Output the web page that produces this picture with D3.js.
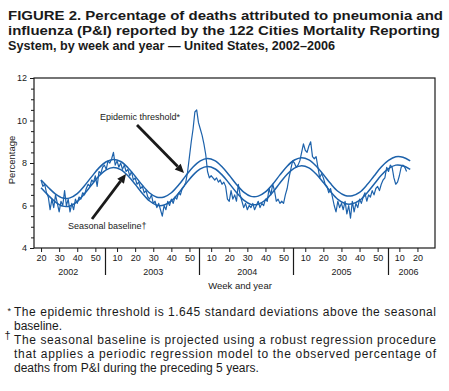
<!DOCTYPE html>
<html><head><meta charset="utf-8">
<script src="https://cdn.jsdelivr.net/npm/d3@7"></script>
<style>
body{margin:0;background:#fff;}
svg{display:block;font-family:"Liberation Sans",Arial,Helvetica,sans-serif;}
</style></head>
<body><svg id="chart" width="449" height="391"></svg>
<script>
// ---------------- data ----------------
const titleLines = [
  "FIGURE 2. Percentage of deaths attributed to pneumonia and",
  "influenza (P&I) reported by the 122 Cities Mortality Reporting",
  "System, by week and year \u2014 United States, 2002\u20132006"
];
const years = [2002, 2003, 2004, 2005, 2006];
const weekTicks = [[20,30,40,50],[10,20,30,40,50],[10,20,30,40,50],[10,20,30,40,50],[10,20]];
const yTicks = [4, 6, 8, 10, 12];
const yMinorTicks = [4.5,5,5.5,6.5,7,7.5,8.5,9,9.5,10.5,11,11.5];
const yLabel = "Percentage";
const xLabel = "Week and year";

// observed weekly % of deaths from P&I, starting 2002 week 20
const observedStart = {year: 2002, week: 20};
const observed = [
  // 2002
  7.2,6.9,7.0,6.6,6.4,5.8,6.3,5.9,6.5,6.1,5.7,6.2,6.0,6.7,6.0,6.3,5.7,6.1,5.8,6.3,
  6.1,6.4,6.3,6.6,6.5,6.8,7.0,6.9,7.2,7.1,7.4,6.9,7.6,7.5,7.8,
  // 2003
  7.9,7.7,8.1,8.0,8.2,8.5,7.9,8.1,7.8,8.0,7.7,7.9,7.6,7.7,7.4,7.6,7.2,7.3,7.0,7.1,
  6.8,6.9,6.6,6.7,6.4,6.3,6.5,6.1,6.2,5.9,6.1,5.8,5.5,6.0,5.8,6.2,6.0,6.3,6.1,6.4,
  6.3,6.6,6.5,6.8,6.9,7.1,7.6,8.3,9.0,9.6,10.4,10.5,
  // 2004
  9.9,9.6,9.3,8.9,8.4,7.6,7.3,7.4,7.3,7.2,7.3,7.1,7.2,7.0,7.1,6.9,6.3,6.2,6.7,6.3,
  6.5,6.2,7.0,6.5,6.2,5.9,6.1,5.8,6.0,5.9,6.1,5.8,6.0,6.2,5.9,6.1,6.0,6.3,6.2,6.8,
  6.5,7.0,6.7,6.2,6.3,6.1,6.2,6.1,6.5,6.8,7.3,7.7,
  // 2005
  8.1,8.0,7.8,7.9,8.1,8.5,8.9,8.6,8.5,8.8,9.0,8.3,8.2,8.3,7.8,7.3,7.5,7.3,7.0,6.9,
  6.6,6.8,6.4,6.0,5.7,6.2,5.9,6.1,5.8,6.2,5.6,6.0,5.4,6.2,5.7,6.1,5.9,6.3,6.1,6.4,
  6.6,6.2,6.5,6.4,6.7,6.5,6.8,6.9,6.7,7.0,7.2,7.3,
  // 2006
  7.8,7.6,7.9,7.8,7.3,7.0,7.1,7.4,7.8,7.9,7.8,7.6
];

// seasonal baseline and epidemic threshold, read every 4 weeks from 2002 week 20
const curveStart = {year: 2002, week: 20};
const curveStep = 4;
const baseline = [
  6.84,6.48,6.16,5.97,5.98,6.18,6.55,6.98,7.39,7.68,7.79,7.69,7.40,
  7.00,6.57,6.21,6.01,6.02,6.22,6.58,7.02,7.43,7.72,7.83,7.73,7.44,
  7.04,6.61,6.25,6.05,6.06,6.26,6.62,7.06,7.47,7.76,7.87,7.77,7.48,
  7.08,6.65,6.29,6.09,6.08,6.24,6.58,7.00,7.42,7.73,7.90,7.87,7.70
];
const threshold = [
  7.20,6.85,6.54,6.35,6.36,6.56,6.93,7.36,7.77,8.06,8.17,8.07,7.78,
  7.38,6.95,6.59,6.39,6.40,6.60,6.96,7.40,7.81,8.10,8.21,8.11,7.82,
  7.42,6.99,6.63,6.43,6.44,6.64,7.00,7.44,7.85,8.14,8.25,8.15,7.86,
  7.46,7.03,6.67,6.47,6.46,6.62,6.96,7.39,7.81,8.12,8.29,8.27,8.10
];

const footnotes = [
  "The epidemic threshold is 1.645 standard deviations above the seasonal",
  "baseline.",
  "The seasonal baseline is projected using a robust regression procedure",
  "that applies a periodic regression model to the observed percentage of",
  "deaths from P&I during the preceding 5 years."
];

// ---------------- drawing ----------------
const svg = d3.select("#chart");
const lineColor = "#1d62ab";
const ink = "#1a1a1a";
const plot = {left: 34, right: 435, top: 78, bottom: 248};
const weekIndex = (yr, wk) => (yr - years[0]) * 52 + wk;

const x = d3.scaleLinear().domain([16.1, 237.7]).range([plot.left, plot.right]);
const y = d3.scaleLinear().domain([4, 12]).range([plot.bottom, plot.top]);

svg.append("rect").attr("width", 449).attr("height", 391).attr("fill", "#fff");

// title
const title = svg.append("g").attr("font-weight", "bold").attr("fill", ink);
const titleTargets = [435, 432, 327];
const titleBase = [20, 35, 50];
titleLines.forEach((t, i) => {
  title.append("text").attr("x", 8).attr("y", titleBase[i]).attr("font-size", 13)
    .attr("textLength", titleTargets[i]).attr("lengthAdjust", "spacingAndGlyphs").text(t);
});

// lines
const obsData = observed.map((v, i) => ({t: weekIndex(observedStart.year, observedStart.week) + i, v}));
const baseData = baseline.map((v, i) => ({t: weekIndex(curveStart.year, curveStart.week) + i * curveStep, v}));
const thrData = threshold.map((v, i) => ({t: weekIndex(curveStart.year, curveStart.week) + i * curveStep, v}));

const g = svg.append("g");
const smooth = d3.line().x(d => x(d.t)).y(d => y(d.v)).curve(d3.curveCatmullRom.alpha(0.5));
const jag = d3.line().x(d => x(d.t)).y(d => y(d.v));

g.append("path").datum(obsData).attr("d", jag).attr("fill", "none")
  .attr("stroke", lineColor).attr("stroke-width", 1.2).attr("stroke-linejoin", "round");
g.append("path").datum(baseData).attr("d", smooth).attr("fill", "none")
  .attr("stroke", lineColor).attr("stroke-width", 1.5);
g.append("path").datum(thrData).attr("d", smooth).attr("fill", "none")
  .attr("stroke", lineColor).attr("stroke-width", 1.5);

// frame
svg.append("rect").attr("x", plot.left).attr("y", plot.top)
  .attr("width", plot.right - plot.left).attr("height", plot.bottom - plot.top)
  .attr("fill", "none").attr("stroke", ink).attr("stroke-width", 1.2);

// y axis
const yAxis = svg.append("g").attr("transform", `translate(${plot.left},0)`)
  .call(d3.axisLeft(y).tickValues(yTicks).tickSize(4).tickPadding(3));
const yMinor = svg.append("g").attr("transform", `translate(${plot.left},0)`)
  .call(d3.axisLeft(y).tickValues(yMinorTicks).tickSize(3).tickFormat(""));
[yAxis, yMinor].forEach(a => {
  a.select(".domain").remove();
  a.selectAll("line").attr("stroke", ink);
});
yAxis.selectAll("text").attr("font-size", 9).attr("fill", ink)
  .attr("font-family", "'Liberation Sans',Arial,sans-serif");

svg.append("text").attr("transform", `translate(15,160) rotate(-90)`)
  .attr("text-anchor", "middle").attr("font-size", 9.5).attr("fill", ink).text(yLabel);

// x axis
const tickData = [];
years.forEach((yr, i) => weekTicks[i].forEach(w => tickData.push({t: weekIndex(yr, w), w})));
const xAxis = svg.append("g").attr("transform", `translate(0,${plot.bottom})`)
  .call(d3.axisBottom(x).tickValues(tickData.map(d => d.t)).tickSize(4).tickPadding(3)
    .tickFormat((t, i) => tickData[i].w));
xAxis.select(".domain").remove();
xAxis.selectAll("line").attr("stroke", ink);
xAxis.selectAll("text").attr("font-size", 9).attr("fill", ink)
  .attr("font-family", "'Liberation Sans',Arial,sans-serif");

// year separators and labels
years.slice(1).forEach(yr => {
  const sx = Math.round(x(weekIndex(yr, 0) + 3.5)) + 0.5;
  svg.append("line").attr("x1", sx).attr("x2", sx).attr("y1", plot.bottom).attr("y2", plot.bottom + 27)
    .attr("stroke", ink).attr("stroke-width", 1.2);
});
years.forEach((yr, i) => {
  const cx = x(d3.mean(weekTicks[i], w => weekIndex(yr, w)));
  svg.append("text").attr("x", cx).attr("y", plot.bottom + 26.5).attr("text-anchor", "middle")
    .attr("font-size", 9).attr("fill", ink).text(yr);
});
svg.append("text").attr("x", 240).attr("y", plot.bottom + 40.5).attr("text-anchor", "middle")
  .attr("font-size", 9.5).attr("fill", ink).text(xLabel);

// annotations
function arrow(x1, y1, x2, y2) {
  const ang = Math.atan2(y2 - y1, x2 - x1), hl = 9, hw = 4.2;
  const bx = x2 - hl * Math.cos(ang), by = y2 - hl * Math.sin(ang);
  svg.append("line").attr("x1", x1).attr("y1", y1).attr("x2", bx).attr("y2", by)
    .attr("stroke", ink).attr("stroke-width", 2.8);
  const px = -Math.sin(ang) * hw, py = Math.cos(ang) * hw;
  svg.append("polygon").attr("points",
    `${x2},${y2} ${bx + px},${by + py} ${bx - px},${by - py}`).attr("fill", ink);
}
svg.append("text").attr("x", 100).attr("y", 120).attr("font-size", 9).attr("fill", ink)
  .text("Epidemic threshold*");
arrow(137, 125, 184, 173);
svg.append("text").attr("x", 68).attr("y", 229).attr("font-size", 9).attr("fill", ink)
  .text("Seasonal baseline\u2020");
arrow(92, 219, 126, 174);

// footnotes
const fn = svg.append("g").attr("fill", ink).attr("font-size", 12).attr("text-anchor", "start");
fn.append("text").attr("x", 7.5).attr("y", 314).attr("font-size", 9).text("*");
fn.append("text").attr("x", 4.5).attr("y", 339).attr("font-size", 11).text("\u2020");
const fnBase = [316, 330, 344, 358, 372];
const justified = [true, false, true, true, false];
footnotes.forEach((t, i) => {
  const el = fn.append("text").attr("x", 14).attr("y", fnBase[i]).text(t);
  if (justified[i]) el.attr("textLength", 422).attr("lengthAdjust", "spacing");
});
</script>
</body></html>
